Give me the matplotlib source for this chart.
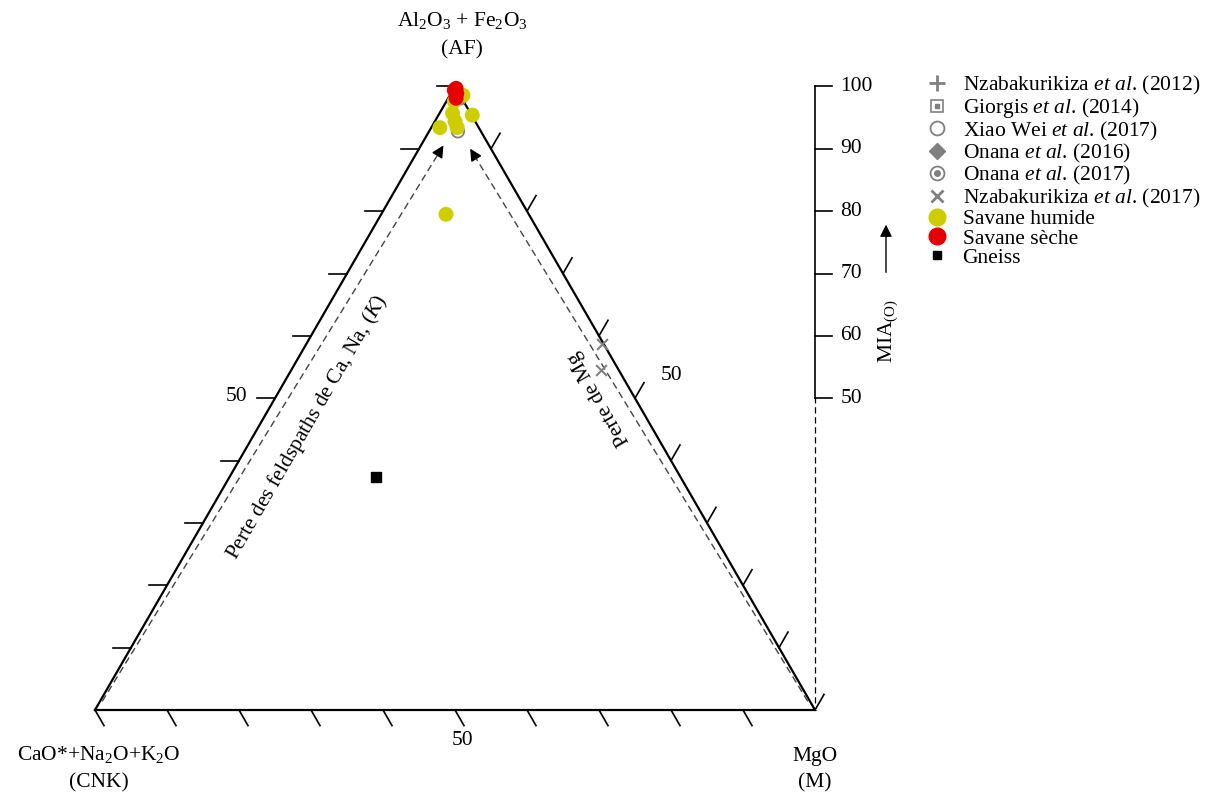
import numpy as np
import matplotlib
matplotlib.use("Agg")
import matplotlib.pyplot as plt
from matplotlib.lines import Line2D

plt.rcParams['font.family'] = ['Liberation Serif', 'DejaVu Serif']
plt.rcParams['mathtext.fontset'] = 'custom'
plt.rcParams['mathtext.rm'] = 'Liberation Serif'
plt.rcParams['mathtext.it'] = 'Liberation Serif:italic'

# ternary data: AF and M fractions (CNK = 1 - AF - M)
savane_humide_af = [0.986, 0.976, 0.957, 0.944, 0.954, 0.934, 0.934, 0.795]
savane_humide_m = [0.018, 0.011, 0.018, 0.028, 0.047, 0.012, 0.036, 0.090]
savane_seche_af = [0.997, 0.989, 0.994, 0.981]
savane_seche_m = [0.003, 0.008, 0.002, 0.011]
xiao_af = [0.928, 0.981]
xiao_m = [0.040, 0.017]
nzaba2017_af = [0.587, 0.546]
nzaba2017_m = [0.410, 0.430]
gneiss_af = [0.374]
gneiss_m = [0.203]
mia_ticks = [50, 60, 70, 80, 90, 100]

S3 = np.sqrt(3) / 2
FS = 15.5


def tern(af, m):
    af = np.asarray(af, float)
    m = np.asarray(m, float)
    return m + af / 2, af * S3


fig = plt.figure(figsize=(12.16, 7.96), dpi=100)
ax = fig.add_axes([0, 0, 1, 1])
ax.set_xlim(-95 / 720, (1216 - 95) / 720)
ax.set_ylim(-(796 - 710) / 720, 710 / 720)
ax.set_aspect('equal')
ax.axis('off')

# triangle
ax.plot([0, 1, 0.5, 0], [0, 0, S3, 0], color='black', lw=1.6, solid_joinstyle='miter')

L = 0.025
for i in range(10):
    f = i / 10
    # bottom ticks (parallel to right edge)
    ax.plot([f, f + 0.5 * L], [0, -S3 * L], color='black', lw=1.2)
    # right edge ticks (parallel to left edge)
    x0, y0 = 1 - f / 2, f * S3
    ax.plot([x0, x0 + 0.5 * L], [y0, y0 + S3 * L], color='black', lw=1.2)
    # left edge ticks (horizontal)
    g = (i + 1) / 10
    ax.plot([g / 2 - L, g / 2], [g * S3, g * S3], color='black', lw=1.2)

ax.text(0.197, 0.435, '50', fontsize=FS, ha='center', va='center')
ax.text(0.801, 0.464, '50', fontsize=FS, ha='center', va='center')
ax.text(0.51, -0.043, '50', fontsize=FS, ha='center', va='center')

# vertex labels
ax.text(0.51, 0.958, 'Al$_2$O$_3$ + Fe$_2$O$_3$', fontsize=FS, ha='center', va='center')
ax.text(0.51, 0.917, '(AF)', fontsize=FS, ha='center', va='center')
ax.text(0.005, -0.062, 'CaO*+Na$_2$O+K$_2$O', fontsize=FS, ha='center', va='center')
ax.text(0.005, -0.101, '(CNK)', fontsize=FS, ha='center', va='center')
ax.text(1.0, -0.064, 'MgO', fontsize=FS, ha='center', va='center')
ax.text(1.0, -0.101, '(M)', fontsize=FS, ha='center', va='center')

# MIA axis
ax.plot([1, 1], [0.5 * S3, S3], color='black', lw=1.2)
ax.plot([1, 1], [0.01, 0.5 * S3], color='black', lw=0.9, ls=(0, (5, 3)))
for t in mia_ticks:
    y = t / 100 * S3
    ax.plot([1, 1 + 0.024], [y, y], color='black', lw=1.2)
    ax.text(1.035, y, str(t), fontsize=FS, ha='left', va='center')
ax.text(1.101, 0.527, 'MIA$_{\\mathrm{(O)}}$', fontsize=FS, ha='center', va='center', rotation=90)
ax.annotate('', xy=(1.0986, 0.678), xytext=(1.0986, 0.604),
            arrowprops=dict(arrowstyle='-|>', color='black', lw=1, mutation_scale=18))

# dashed trend arrows
for start, tip in [((0.01, 0.012), (0.486, 0.7875)), ((0.99, 0.012), (0.519, 0.783))]:
    d = np.array(tip) - np.array(start)
    d = d / np.hypot(*d)
    back = np.array(tip) - d * 0.02
    ax.plot([start[0], back[0]], [start[1], back[1]], color='#444444', lw=1, ls=(0, (5, 3)))
    ax.annotate('', xy=tip, xytext=back,
                arrowprops=dict(arrowstyle='-|>', color='black', lw=1, mutation_scale=18))

ax.text(0.294, 0.393, 'Perte des feldspaths de Ca, Na, ($\\it{K}$)', fontsize=FS, rotation=60,
        rotation_mode='anchor', ha='center', va='center')
ax.text(0.701, 0.433, 'Perte de Mg', fontsize=FS, rotation=120,
        rotation_mode='anchor', ha='center', va='center')

# data
gray = '#808080'
x, y = tern(xiao_af, xiao_m)
ax.scatter(x, y, s=80, facecolors='none', edgecolors=gray, lw=1.3, zorder=3)
x, y = tern(nzaba2017_af, nzaba2017_m)
ax.scatter(x, y, s=60, marker='x', color=gray, lw=1.5, zorder=3)
x, y = tern(savane_humide_af, savane_humide_m)
ax.scatter(x, y, s=115, color='#cdcd00', edgecolors='none', zorder=4)
x, y = tern(savane_seche_af, savane_seche_m)
ax.scatter(x, y, s=115, color='#e60000', edgecolors='none', zorder=5)
x, y = tern(gneiss_af, gneiss_m)
ax.scatter(x, y, s=45, marker='s', color='black', zorder=4)

# legend
handles = [
    Line2D([], [], ls='', marker='+', color=gray, ms=11, mew=2),
    (Line2D([], [], ls='', marker='s', mfc='none', mec=gray, ms=9, mew=1.2),
     Line2D([], [], ls='', marker='s', color=gray, ms=3)),
    Line2D([], [], ls='', marker='o', mfc='none', mec=gray, ms=10, mew=1.3),
    Line2D([], [], ls='', marker='D', color=gray, ms=8),
    (Line2D([], [], ls='', marker='o', mfc='none', mec=gray, ms=10, mew=1.3),
     Line2D([], [], ls='', marker='o', color=gray, ms=4)),
    Line2D([], [], ls='', marker='x', color=gray, ms=8, mew=2),
    Line2D([], [], ls='', marker='o', color='#cdcd00', ms=12),
    Line2D([], [], ls='', marker='o', color='#e60000', ms=12),
    Line2D([], [], ls='', marker='s', color='black', ms=6),
]
labels = [
    'Nzabakurikiza $\\it{et\\ al}$. (2012)',
    'Giorgis $\\it{et\\ al}$. (2014)',
    'Xiao Wei $\\it{et\\ al}$. (2017)',
    'Onana $\\it{et\\ al}$. (2016)',
    'Onana $\\it{et\\ al}$. (2017)',
    'Nzabakurikiza $\\it{et\\ al}$. (2017)',
    'Savane humide',
    'Savane sèche',
    'Gneiss',
]
fig.legend(handles, labels, loc='upper left', bbox_to_anchor=(913 / 1216, 1 - 63 / 796),
           frameon=False, fontsize=FS, labelspacing=-0.03, handletextpad=0.6,
           handlelength=1.2, borderpad=0)

fig.savefig('out.png', dpi=100)
